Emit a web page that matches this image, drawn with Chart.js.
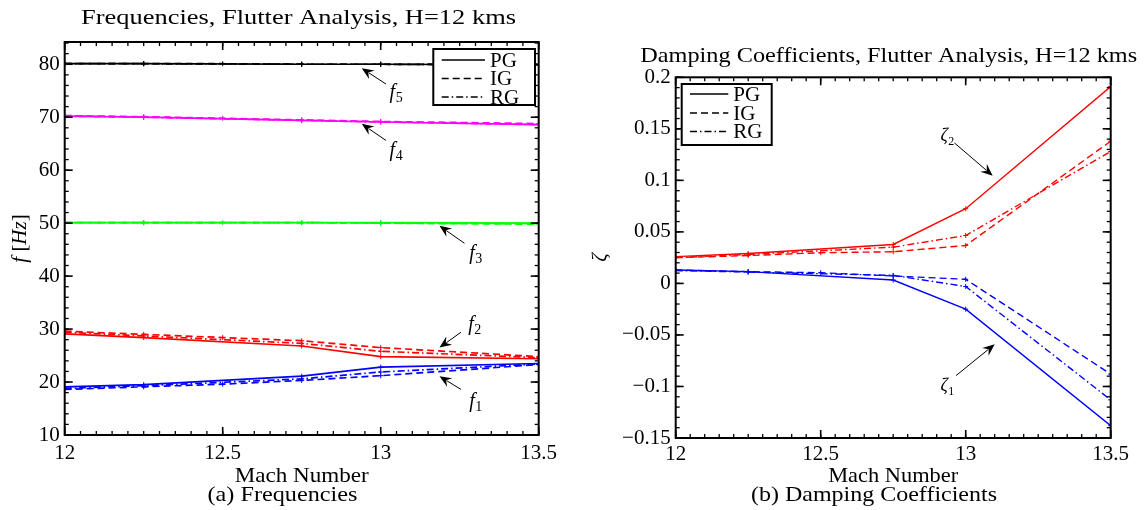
<!DOCTYPE html>
<html><head><meta charset="utf-8">
<script src="https://cdn.jsdelivr.net/npm/chart.js@4.4.1/dist/chart.umd.min.js"></script>
<style>
html,body{margin:0;padding:0;background:#fff;}
#wrap{position:relative;width:1144px;height:510px;overflow:hidden;background:#fff;}
canvas{position:absolute;top:0;}
</style></head><body>
<div id="wrap">
<canvas id="c1" style="left:0px" width="572" height="510"></canvas>
<canvas id="c2" style="left:572px" width="572" height="510"></canvas>
</div>
<script>
// ---------- data ----------
const machA = [12, 12.25, 12.75, 13, 13.5];
const machB = [12, 12.25, 12.5, 12.75, 13, 13.5];

// Frequencies [Hz]
const f1PG = [19.1, 19.5, 21.1, 22.8, 23.5];
const f1IG = [18.6, 19.1, 19.6, 20.3, 21.2, 23.3];
const f1RG = [18.8, 19.3, 20.6, 21.9, 23.4];
const f2PG = [29.1, 28.4, 26.8, 24.8, 24.4];
const f2IG = [29.6, 29.0, 28.4, 27.8, 26.5, 24.8];
const f2RG = [29.4, 28.7, 27.3, 25.8, 24.6];
const f3PG = [50.1, 50.1, 50.1, 50.1, 50.0];
const f3IG = [50.1, 50.1, 50.1, 50.1, 50.0, 49.8];
const f3RG = [50.1, 50.1, 50.1, 50.0, 49.9];
const f4PG = [70.2, 70.0, 69.4, 69.1, 68.6];
const f4IG = [70.3, 70.1, 69.8, 69.5, 69.2, 68.8];
const f4RG = [70.2, 70.0, 69.4, 69.1, 68.6];
const f5PG = [80.1, 80.1, 80.0, 80.0, 79.9];
const f5IG = [80.1, 80.1, 80.1, 80.0, 80.0, 79.9];
const f5RG = [80.1, 80.1, 80.0, 80.0, 79.9];

// Damping coefficients
const z1PG = [0.013, 0.0114, 0.0033, -0.025, -0.138];
const z1IG = [0.013, 0.0114, 0.0104, 0.0072, 0.004, -0.088];
const z1RG = [0.0125, 0.011, 0.0078, -0.003, -0.113];
const z2PG = [0.026, 0.029, 0.0378, 0.0725, 0.191];
const z2IG = [0.025, 0.027, 0.0298, 0.0307, 0.0368, 0.138];
const z2RG = [0.025, 0.0281, 0.0352, 0.0465, 0.128];

// ticks
const xTicks = [12, 12.5, 13, 13.5];
const xTickLabels = ['12', '12.5', '13', '13.5'];
const yTicksF = [10, 20, 30, 40, 50, 60, 70, 80];
const yTickLabelsF = ['10', '20', '30', '40', '50', '60', '70', '80'];
const yTicksZ = [-0.15, -0.1, -0.05, 0, 0.05, 0.1, 0.15, 0.2];
const yTickLabelsZ = ['\u22120.15', '\u22120.1', '\u22120.05', '0', '0.05', '0.1', '0.15', '0.2'];

const legendNames = ['PG', 'IG', 'RG'];

// ---------- styles ----------
const SERIF = "'Liberation Serif', 'DejaVu Serif', serif";
Chart.defaults.font.family = SERIF;
Chart.defaults.font.size = 21;
Chart.defaults.color = '#000';
const DASH = { PG: [], IG: [7, 4], RG: [7, 3, 1.5, 3] };

function ser(label, xs, ys, color, model, lw) {
  return {
    label: label + ' ' + model,
    data: xs.map((x, i) => ({ x: x, y: ys[i] })),
    borderColor: color, backgroundColor: color,
    borderWidth: lw, borderDash: DASH[model],
    pointStyle: 'cross', pointRadius: 2.5, pointBorderWidth: 1,
    tension: 0, fill: false
  };
}

// ---------- drawing helpers ----------
function fitText(ctx, text, cx, base, font, targetW) {
  ctx.font = font;
  const w = ctx.measureText(text).width;
  const sx = targetW ? targetW / w : 1;
  ctx.save();
  ctx.translate(cx, base);
  ctx.scale(sx, 1);
  ctx.textAlign = 'left';
  ctx.textBaseline = 'alphabetic';
  ctx.fillText(text, -w / 2, 0);
  ctx.restore();
}

function drawSegments(ctx, segs, size) {
  let xx = 0;
  segs.forEach(s => {
    ctx.font = (s.it ? 'italic ' : '') + size + 'px ' + SERIF;
    ctx.fillText(s.t, xx, 0);
    xx += ctx.measureText(s.t).width;
  });
  return xx;
}
function segWidth(ctx, segs, size) {
  let w = 0;
  segs.forEach(s => { ctx.font = (s.it ? 'italic ' : '') + size + 'px ' + SERIF; w += ctx.measureText(s.t).width; });
  return w;
}

function arrow(ctx, tx, ty, hx, hy) {
  const dx = hx - tx, dy = hy - ty, L = Math.hypot(dx, dy);
  const ux = dx / L, uy = dy / L, nx = -uy, ny = ux;
  const HL = 12, HW = 5;
  ctx.beginPath();
  ctx.moveTo(tx, ty);
  ctx.lineTo(hx - ux * HL * 0.7, hy - uy * HL * 0.7);
  ctx.lineWidth = 1;
  ctx.stroke();
  ctx.beginPath();
  ctx.moveTo(hx, hy);
  ctx.lineTo(hx - ux * HL + nx * HW, hy - uy * HL + ny * HW);
  ctx.lineTo(hx - ux * HL * 0.65, hy - uy * HL * 0.65);
  ctx.lineTo(hx - ux * HL - nx * HW, hy - uy * HL - ny * HW);
  ctx.closePath();
  ctx.fill();
}

const decor = {
  id: 'decor',
  afterDatasetsDraw(chart, args, cfg) {
    const { ctx, chartArea: a, scales: { x, y } } = chart;
    ctx.save();
    ctx.fillStyle = '#000';
    ctx.strokeStyle = '#000';
    ctx.setLineDash([]);
    const seg = (x1, y1, x2, y2) => { ctx.beginPath(); ctx.moveTo(x1, y1); ctx.lineTo(x2, y2); ctx.stroke(); };
    const steps = (mn, mx, st) => { const n = Math.floor((mx - mn) / st + 1e-6); const o = []; for (let i = 0; i <= n; i++) o.push(mn + i * st); return o; };
    // minor ticks
    ctx.lineWidth = 1.3;
    steps(x.min, x.max, cfg.xMinor).forEach(v => {
      const p = x.getPixelForValue(v); seg(p, a.bottom, p, a.bottom - 4); seg(p, a.top, p, a.top + 4);
    });
    steps(cfg.yMinorStart, y.max, cfg.yMinor).forEach(v => {
      const p = y.getPixelForValue(v); seg(a.left, p, a.left + 4, p); seg(a.right, p, a.right - 4, p);
    });
    // major ticks
    ctx.lineWidth = 1.6;
    cfg.xMajor.forEach(v => {
      const p = x.getPixelForValue(v); seg(p, a.bottom, p, a.bottom - 8); seg(p, a.top, p, a.top + 8);
    });
    cfg.yMajor.forEach(v => {
      const p = y.getPixelForValue(v); seg(a.left, p, a.left + 8, p); seg(a.right, p, a.right - 8, p);
    });
    // frame
    ctx.lineWidth = 2;
    ctx.strokeRect(a.left, a.top, a.right - a.left, a.bottom - a.top);

    // legend
    const L = cfg.legend;
    ctx.fillStyle = '#fff';
    ctx.fillRect(L.box[0], L.box[1], L.box[2] - L.box[0], L.box[3] - L.box[1]);
    ctx.lineWidth = 2;
    ctx.strokeRect(L.box[0], L.box[1], L.box[2] - L.box[0], L.box[3] - L.box[1]);
    ctx.fillStyle = '#000';
    ctx.font = '21px ' + SERIF;
    ctx.textBaseline = 'middle';
    ctx.textAlign = 'left';
    legendNames.forEach((nm, i) => {
      const yy = L.rows[i];
      ctx.lineWidth = 1.5;
      ctx.setLineDash(DASH[nm]);
      seg(L.line[0], yy, L.line[1], yy);
      ctx.setLineDash([]);
      ctx.fillText(nm, L.textX, yy + 1);
    });

    // arrows & labels
    ctx.textBaseline = 'alphabetic';
    cfg.arrows.forEach(ar => {
      const hx = x.getPixelForValue(ar.head[0]), hy = y.getPixelForValue(ar.head[1]);
      const tx = x.getPixelForValue(ar.tail[0]), ty = y.getPixelForValue(ar.tail[1]);
      arrow(ctx, tx, ty, hx, hy);
      const lx = x.getPixelForValue(ar.at[0]), ly = y.getPixelForValue(ar.at[1]);
      ctx.font = 'italic ' + ar.size + 'px ' + SERIF;
      const w1 = ctx.measureText(ar.sym).width;
      ctx.font = Math.round(ar.size * 0.68) + 'px ' + SERIF;
      const w2 = ctx.measureText(ar.sub).width;
      const x0 = lx - (w1 + w2) / 2;
      ctx.font = 'italic ' + ar.size + 'px ' + SERIF;
      ctx.fillText(ar.sym, x0, ly + ar.size * 0.3);
      ctx.font = Math.round(ar.size * 0.68) + 'px ' + SERIF;
      ctx.fillText(ar.sub, x0 + w1 + 0.5, ly + ar.size * 0.3 + 4);
    });

    // titles / labels
    ctx.fillStyle = '#000';
    cfg.texts.forEach(t => fitText(ctx, t.text, t.x, t.y, t.size + 'px ' + SERIF, t.w));

    // y label (rotated)
    const YL = cfg.ylabel;
    ctx.save();
    ctx.translate(YL.x, YL.y);
    ctx.rotate(-Math.PI / 2);
    const w = segWidth(ctx, YL.segs, YL.size);
    ctx.translate(-w / 2, YL.size * 0.3);
    drawSegments(ctx, YL.segs, YL.size);
    ctx.restore();

    ctx.restore();
  }
};

function makeChart(id, datasets, o) {
  const tickFont = { family: SERIF, size: 21 };
  return new Chart(document.getElementById(id), {
    type: 'line',
    data: { datasets: datasets },
    plugins: [decor],
    options: {
      responsive: false, animation: false, maintainAspectRatio: false,
      layout: { padding: { left: 0, top: o.top, right: o.right, bottom: 0 } },
      plugins: { legend: { display: false }, tooltip: { enabled: false }, title: { display: false }, decor: o.decor },
      scales: {
        x: {
          type: 'linear', min: 12, max: 13.5,
          afterBuildTicks: s => { s.ticks = xTicks.map(v => ({ value: v })); },
          afterFit: s => { s.height = o.xH; },
          ticks: { callback: (v, i) => xTickLabels[i], color: '#000', font: tickFont, padding: o.xPad, maxRotation: 0, autoSkip: false },
          grid: { display: false, drawTicks: false }, border: { display: false }
        },
        y: {
          type: 'linear', min: o.yMin, max: o.yMax,
          afterBuildTicks: s => { s.ticks = o.yTicks.map(v => ({ value: v })); },
          afterFit: s => { s.width = o.yW; },
          ticks: { callback: (v, i) => o.yLabels[i], color: '#000', font: tickFont, padding: 5, autoSkip: false },
          grid: { display: false, drawTicks: false }, border: { display: false }
        }
      }
    }
  });
}

// ---------- chart (a) ----------
const dsF = [];
[[f5IG, f5RG, f5PG, '#000000', 'f5'], [f4IG, f4RG, f4PG, '#ff00ff', 'f4'], [f3IG, f3RG, f3PG, '#00ff00', 'f3'],
 [f2IG, f2RG, f2PG, '#ff0000', 'f2'], [f1IG, f1RG, f1PG, '#0000ff', 'f1']].forEach(m => {
  dsF.push(ser(m[4], machB, m[0], m[3], 'IG', 1.7));
  dsF.push(ser(m[4], machA, m[1], m[3], 'RG', 1.7));
  dsF.push(ser(m[4], machA, m[2], m[3], 'PG', 1.7));
});

makeChart('c1', dsF, {
  top: 42, right: 572 - 538.7, xH: 510 - 435, yW: 64.7, xPad: 6,
  yMin: 10, yMax: 84.2, yTicks: yTicksF, yLabels: yTickLabelsF,
  decor: {
    xMinor: 0.05, yMinor: 2, yMinorStart: 10, xMajor: xTicks, yMajor: yTicksF,
    legend: { box: [433.3, 49, 535, 105], line: [441.7, 485], textX: 490, rows: [60, 78.5, 97] },
    arrows: [
      { head: [12.94, 79.25], tail: [13.017, 76.25], at: [13.048, 74.7], sym: 'f', sub: '5', size: 20 },
      { head: [12.94, 68.75], tail: [13.017, 65.6], at: [13.048, 63.75], sym: 'f', sub: '4', size: 20 },
      { head: [13.186, 49.5], tail: [13.265, 46.2], at: [13.3, 44.3], sym: 'f', sub: '3', size: 20 },
      { head: [13.186, 26.5], tail: [13.254, 29.4], at: [13.297, 30.9], sym: 'f', sub: '2', size: 20 },
      { head: [13.186, 21.1], tail: [13.254, 18.6], at: [13.3, 16.4], sym: 'f', sub: '1', size: 20 }
    ],
    texts: [
      { text: 'Frequencies, Flutter Analysis, H=12 kms', x: 298.5, y: 24, size: 21, w: 435 },
      { text: 'Mach Number', x: 301.7, y: 481.7, size: 21, w: 134 },
      { text: '(a) Frequencies', x: 282.5, y: 501, size: 21, w: 150 }
    ],
    ylabel: { x: 20, y: 238.5, size: 21, segs: [{ t: 'f', it: true }, { t: ' [', it: false }, { t: 'Hz', it: true }, { t: ']', it: false }] }
  }
});

// ---------- chart (b) ----------
const dsZ = [];
[[z2IG, z2RG, z2PG, '#ff0000', 'zeta2'], [z1IG, z1RG, z1PG, '#0000ff', 'zeta1']].forEach(m => {
  dsZ.push(ser(m[4], machB, m[0], m[3], 'IG', 1.4));
  dsZ.push(ser(m[4], machA, m[1], m[3], 'RG', 1.4));
  dsZ.push(ser(m[4], machA, m[2], m[3], 'PG', 1.4));
});

makeChart('c2', dsZ, {
  top: 77.3, right: 572 - 538.7, xH: 510 - 438, yW: 103.7, xPad: 4,
  yMin: -0.15, yMax: 0.2, yTicks: yTicksZ, yLabels: yTickLabelsZ,
  decor: {
    xMinor: 0.05, yMinor: 0.01, yMinorStart: -0.15, xMajor: xTicks, yMajor: yTicksZ,
    legend: { box: [109.7, 84, 199.7, 145], line: [118, 156.3], textX: 161.3, rows: [94, 113, 131.5] },
    arrows: [
      { head: [13.093, 0.1045], tail: [12.961, 0.1364], at: [12.936, 0.1436], sym: '\u03B6', sub: '2', size: 18 },
      { head: [13.1, -0.059], tail: [12.967, -0.0894], at: [12.936, -0.099], sym: '\u03B6', sub: '1', size: 18 }
    ],
    texts: [
      { text: 'Damping Coefficients, Flutter Analysis, H=12 kms', x: 316.7, y: 62, size: 21, w: 497 },
      { text: 'Mach Number', x: 321.2, y: 481.7, size: 21, w: 130 },
      { text: '(b) Damping Coefficients', x: 302, y: 501, size: 21, w: 246 }
    ],
    ylabel: { x: 28, y: 257.5, size: 21, segs: [{ t: '\u03B6', it: true }] }
  }
});
</script>
</body></html>
